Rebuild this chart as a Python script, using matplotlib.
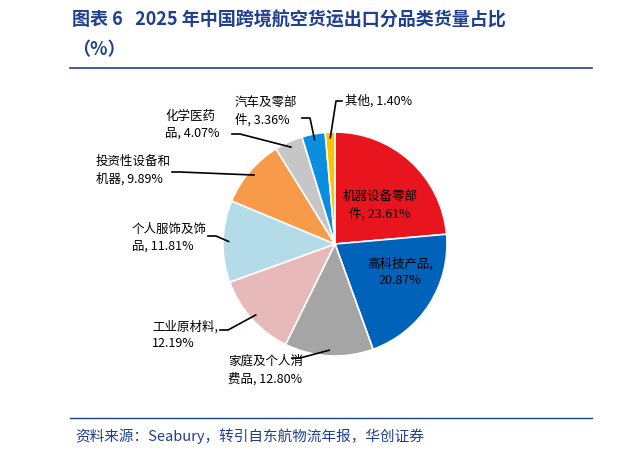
import matplotlib
matplotlib.use("Agg")
import matplotlib.pyplot as plt
import numpy as np
from matplotlib.lines import Line2D

plt.rcParams['font.family'] = ['Noto Sans CJK SC', 'DejaVu Sans']

labels = ["机器设备零部\n件", "高科技产品", "家庭及个人消\n费品", "工业原材料", "个人服饰及饰\n品",
          "投资性设备和\n机器", "化学医药\n品", "汽车及零部\n件", "其他"]
values = [23.61, 20.87, 12.80, 12.19, 11.81, 9.89, 4.07, 3.36, 1.40]
colors = ["#e8141e", "#0062b8", "#a5a5a5", "#e8b9b9", "#b4dbe8", "#f79a4a", "#c6c6c6", "#0a8ee0", "#ffc000"]
# label text positions in pixels (x, y from top), alignment
text_pos = [(380, 205, 'center'), (400, 272, 'center'), (228, 370, 'left'), (152, 335, 'left'),
            (132, 238, 'left'), (96, 170, 'left'), (165, 125, 'left'), (235, 111, 'left'), (345, 101, 'left')]
line_end = [None, None, (292, 358), (220, 330), (208, 236), (172, 172), (232, 134), (302, 118), (342, 101)]

W, H = 620, 454
fig = plt.figure(figsize=(W/100, H/100), dpi=100)
cx, cy, r = 335, 244, 112
ax = fig.add_axes([(cx-r)/W, (H-cy-r)/H, 2*r/W, 2*r/H])
wedges, _ = ax.pie(values, colors=colors, startangle=90, counterclock=False,
                   wedgeprops=dict(edgecolor='white', linewidth=1.2))
ax.set_xlim(-1, 1)
ax.set_ylim(-1, 1)
ax.set_aspect('equal')

for i, (w, lab, v) in enumerate(zip(wedges, labels, values)):
    tx, ty, ha = text_pos[i]
    txt = f"{lab}, {v:.2f}%"
    if i in (1, 3):
        txt = f"{lab},\n{v:.2f}%"
    fig.text(tx/W, 1-ty/H, txt, ha=ha, va='center', fontsize=9, color='black', linespacing=1.4)
    if line_end[i] is not None:
        ang = np.deg2rad((w.theta1 + w.theta2)/2)
        px = cx + 0.95*r*np.cos(ang)
        py = cy - 0.95*r*np.sin(ang)
        ex, ey = line_end[i]
        fig.add_artist(Line2D([ex/W, (ex + (8 if ex < cx else -6))/W, px/W],
                              [1-ey/H, 1-ey/H, 1-py/H], color='black', lw=1.2))

blue = "#1f3f8f"
fig.text(72/W, 1-20/H, "图表 6   2025 年中国跨境航空货运出口分品类货量占比", fontsize=13, fontweight='bold', color=blue, va='center')
fig.text(72/W, 1-50/H, "（%）", fontsize=13, fontweight='bold', color=blue, va='center')
fig.add_artist(Line2D([70/W, 592/W], [1-68/H]*2, color=blue, lw=1.2))
fig.add_artist(Line2D([70/W, 592/W], [1-418/H]*2, color=blue, lw=1.0))
fig.text(75/W, 1-436/H, "资料来源：Seabury，转引自东航物流年报，华创证券", fontsize=10.5, style='italic', color=blue, va='center')
fig.savefig("out.png", dpi=100)
